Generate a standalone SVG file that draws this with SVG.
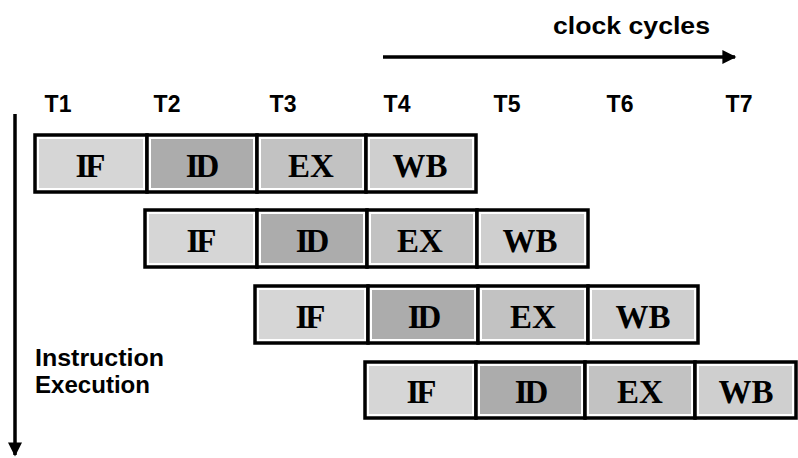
<svg xmlns="http://www.w3.org/2000/svg" width="798" height="458" viewBox="0 0 798 458">
<style>
.cell{stroke:#000;stroke-width:3.5;fill:#fff}
.if{fill:#d6d6d6}.id{fill:#acacac}.ex{fill:#c2c2c2}.wb{fill:#cfcfcf}
.st{font-family:"Liberation Serif","Times New Roman",serif;font-weight:bold;font-size:33px;fill:#000;text-anchor:middle}
.tl{font-family:"Liberation Sans",Arial,sans-serif;font-weight:bold;font-size:23px;fill:#000;text-anchor:middle}
.lb{font-family:"Liberation Sans",Arial,sans-serif;font-weight:bold;font-size:23px;fill:#000}
.ax{stroke:#000;stroke-width:3.5;fill:none}
</style>
<defs>
<marker id="ah" viewBox="0 0 10 10" refX="9" refY="5" markerWidth="4.5" markerHeight="4" orient="auto" markerUnits="strokeWidth">
<path d="M0,0 L10,5 L0,10 Z" fill="#000"/>
</marker>
</defs>
<rect width="798" height="458" fill="#fff"/>
<g id="labels">
<text class="lb" x="553" y="34" textLength="157" lengthAdjust="spacingAndGlyphs">clock cycles</text>
<text class="tl" x="58" y="112">T1</text>
<text class="tl" x="167" y="112">T2</text>
<text class="tl" x="283" y="112">T3</text>
<text class="tl" x="397" y="112">T4</text>
<text class="tl" x="507" y="112">T5</text>
<text class="tl" x="620" y="112">T6</text>
<text class="tl" x="739" y="112">T7</text>
<text class="lb" x="35" y="366" textLength="129" lengthAdjust="spacingAndGlyphs">Instruction</text>
<text class="lb" x="35" y="393" textLength="115" lengthAdjust="spacingAndGlyphs">Execution</text>
</g>
<g id="connectors">
<line class="ax" x1="383" y1="57" x2="735" y2="57" marker-end="url(#ah)"/>
<line class="ax" x1="15" y1="114" x2="15" y2="455" marker-end="url(#ah)"/>
</g>
<g id="row1">
<g id="r1-if"><rect class="cell" x="35" y="135" width="112" height="57"/><rect class="if" x="39" y="139" width="104" height="49"/><text class="st" x="89" y="177" letter-spacing="-3">IF</text></g>
<g id="r1-id"><rect class="cell" x="147" y="135" width="110" height="57"/><rect class="id" x="151" y="139" width="102" height="49"/><text class="st" x="201" y="177" letter-spacing="-3">ID</text></g>
<g id="r1-ex"><rect class="cell" x="257" y="135" width="109" height="57"/><rect class="ex" x="261" y="139" width="101" height="49"/><text class="st" x="311" y="177">EX</text></g>
<g id="r1-wb"><rect class="cell" x="366" y="135" width="110" height="57"/><rect class="wb" x="370" y="139" width="102" height="49"/><text class="st" x="420" y="177">WB</text></g>
</g>
<g id="row2">
<g id="r2-if"><rect class="cell" x="145" y="210" width="112" height="57"/><rect class="if" x="149" y="214" width="104" height="49"/><text class="st" x="200" y="252" letter-spacing="-3">IF</text></g>
<g id="r2-id"><rect class="cell" x="257" y="210" width="110" height="57"/><rect class="id" x="261" y="214" width="102" height="49"/><text class="st" x="311" y="252" letter-spacing="-3">ID</text></g>
<g id="r2-ex"><rect class="cell" x="367" y="210" width="110" height="57"/><rect class="ex" x="371" y="214" width="102" height="49"/><text class="st" x="420" y="252">EX</text></g>
<g id="r2-wb"><rect class="cell" x="477" y="210" width="111" height="57"/><rect class="wb" x="481" y="214" width="103" height="49"/><text class="st" x="530" y="252">WB</text></g>
</g>
<g id="row3">
<g id="r3-if"><rect class="cell" x="255" y="286" width="113" height="57"/><rect class="if" x="259" y="290" width="105" height="49"/><text class="st" x="309" y="328" letter-spacing="-3">IF</text></g>
<g id="r3-id"><rect class="cell" x="368" y="286" width="110" height="57"/><rect class="id" x="372" y="290" width="102" height="49"/><text class="st" x="423" y="328" letter-spacing="-3">ID</text></g>
<g id="r3-ex"><rect class="cell" x="478" y="286" width="110" height="57"/><rect class="ex" x="482" y="290" width="102" height="49"/><text class="st" x="533" y="328">EX</text></g>
<g id="r3-wb"><rect class="cell" x="588" y="286" width="110" height="57"/><rect class="wb" x="592" y="290" width="102" height="49"/><text class="st" x="643" y="328">WB</text></g>
</g>
<g id="row4">
<g id="r4-if"><rect class="cell" x="365" y="362" width="111" height="56"/><rect class="if" x="369" y="366" width="103" height="48"/><text class="st" x="420" y="403" letter-spacing="-3">IF</text></g>
<g id="r4-id"><rect class="cell" x="476" y="362" width="109" height="56"/><rect class="id" x="480" y="366" width="101" height="48"/><text class="st" x="530" y="403" letter-spacing="-3">ID</text></g>
<g id="r4-ex"><rect class="cell" x="585" y="362" width="110" height="56"/><rect class="ex" x="589" y="366" width="102" height="48"/><text class="st" x="640" y="403">EX</text></g>
<g id="r4-wb"><rect class="cell" x="695" y="362" width="101" height="56"/><rect class="wb" x="699" y="366" width="93" height="48"/><text class="st" x="746" y="403">WB</text></g>
</g>
</svg>
